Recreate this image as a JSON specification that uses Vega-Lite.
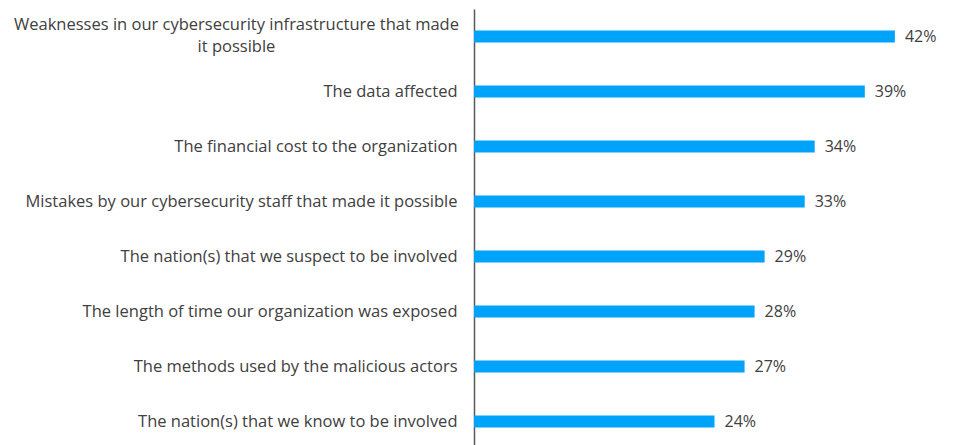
{
  "$schema": "https://vega.github.io/schema/vega-lite/v6.json",
  "width": 481,
  "height": 440,
  "autosize": {"type": "none"},
  "padding": {"left": 474, "top": 9, "right": 0, "bottom": 0},
  "background": "white",
  "config": {"view": {"stroke": null}, "font": "Open Sans"},
  "data": {"values": [
    {"label": "Weaknesses in our cybersecurity infrastructure that made|it possible", "value": 42, "pct": "42%"},
    {"label": "The data affected", "value": 39, "pct": "39%"},
    {"label": "The financial cost to the organization", "value": 34, "pct": "34%"},
    {"label": "Mistakes by our cybersecurity staff that made it possible", "value": 33, "pct": "33%"},
    {"label": "The nation(s) that we suspect to be involved", "value": 29, "pct": "29%"},
    {"label": "The length of time our organization was exposed", "value": 28, "pct": "28%"},
    {"label": "The methods used by the malicious actors", "value": 27, "pct": "27%"},
    {"label": "The nation(s) that we know to be involved", "value": 24, "pct": "24%"}
  ]},
  "encoding": {
    "y": {
      "field": "label", "type": "nominal", "sort": null, "title": null,
      "scale": {"paddingInner": 0, "paddingOuter": 0},
      "axis": {
        "domainColor": "#595959", "domainWidth": 1.5, "ticks": false, "grid": false,
        "labelExpr": "split(datum.value, '|')",
        "labelFontSize": 16.5, "labelColor": "#404040", "labelLimit": 0,
        "labelLineHeight": 22,
        "labelAlign": {"condition": {"test": "indexof(datum.value, '|') >= 0", "value": "center"}, "value": "right"},
        "labelPadding": {"condition": {"test": "indexof(datum.value, '|') >= 0", "value": 238}, "value": 17},
        "labelOffset": {"condition": {"test": "indexof(datum.value, '|') >= 0", "value": -12}, "value": 0}
      }
    },
    "x": {"field": "value", "type": "quantitative", "scale": {"domain": [0, 48]}, "axis": null}
  },
  "layer": [
    {"mark": {"type": "bar", "size": 12, "color": "#00a3fa"}},
    {"mark": {"type": "text", "align": "left", "dx": 10, "fontSize": 16, "color": "#404040"},
     "encoding": {"text": {"field": "pct", "type": "nominal"}}}
  ]
}
